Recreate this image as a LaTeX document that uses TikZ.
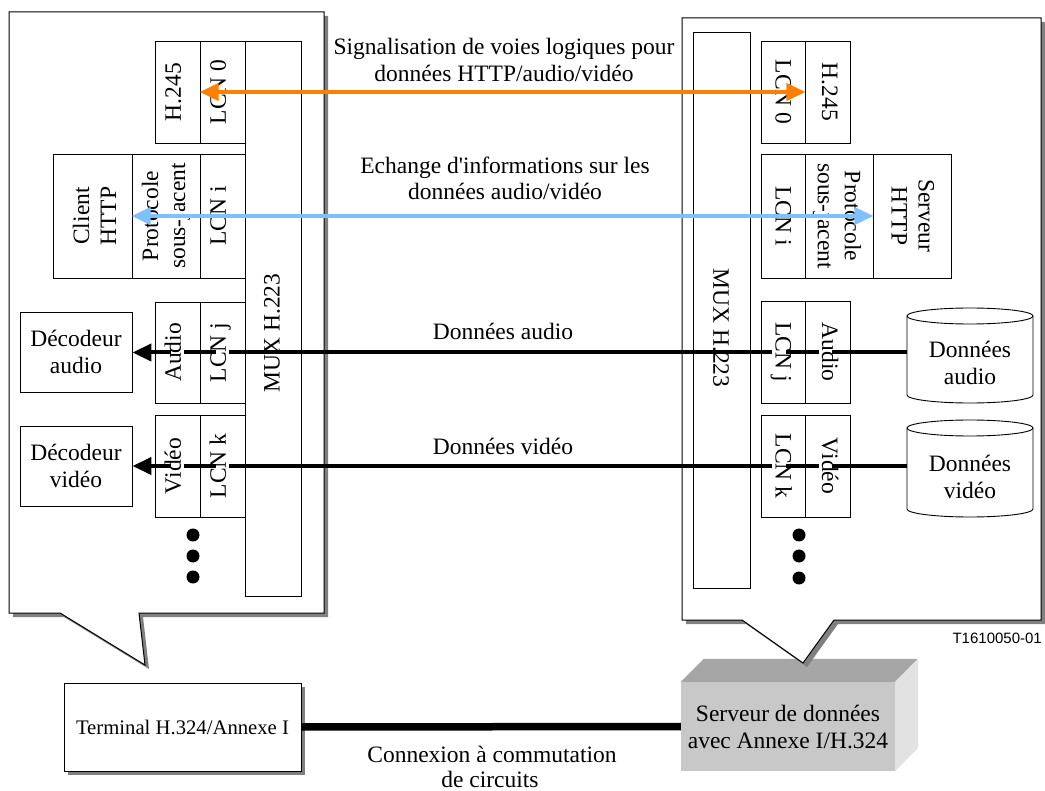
\documentclass[tikz,border=0pt]{standalone}
\usepackage{fontspec}
\setmainfont{Liberation Serif}
\newfontfamily\arialf{Liberation Sans}
\usetikzlibrary{arrows.meta}
\definecolor{sigorange}{RGB}{255,128,0}
\definecolor{infoblue}{RGB}{128,192,255}
\definecolor{shadowgray}{RGB}{128,128,128}
\definecolor{srvfront}{RGB}{200,200,200}
\definecolor{srvtop}{RGB}{166,166,166}
\definecolor{srvside}{RGB}{226,226,226}
\newcommand\mylbl{\fontsize{23.5}{27}\selectfont}
\newcommand\mysmalllbl{\fontsize{20.7}{24}\selectfont}
\begin{document}
\begin{tikzpicture}[x=1pt,y=-1pt,
  cell/.style={draw, line width=0.9pt, inner sep=0pt},
  ctxt/.style={font=\mylbl, fill=white, inner sep=1pt, text height=0.9em, text depth=0.22em},
  mtxt/.style={font=\mylbl, align=center, inner sep=0pt},
  freetxt/.style={font=\mylbl, anchor=base, inner sep=0pt},
  dotnode/.style={circle, fill=black, inner sep=0pt, minimum size=13pt},
  dataline/.style={line width=4pt, -{Triangle[length=19pt,width=17pt]}},
  sigline/.style={line width=4pt, draw=sigorange, {Triangle[length=19pt,width=17pt,fill=sigorange]}-{Triangle[length=19pt,width=17pt,fill=sigorange]}},
  infoline/.style={line width=4pt, draw=infoblue, {Triangle[length=19pt,width=17pt,fill=infoblue]}-{Triangle[length=19pt,width=17pt,fill=infoblue]}},
  callout/.style={fill=white, draw=black, line width=1pt},
  shadowfill/.style={fill=shadowgray},
  cylline/.style={line width=0.9pt}
]
\useasboundingbox (0,0) rectangle (1045,791);

% ---------- bottom devices ----------
\fill[shadowfill] (68,687) rectangle (305,775);
\node[draw, line width=1pt, fill=white, minimum width=237pt, minimum height=88pt, inner sep=0pt, font=\mysmalllbl] (term) at (182.5,727) {Terminal H.324/Annexe I};

\node[fill=srvfront, minimum width=214pt, minimum height=89pt, inner sep=0pt, font=\mylbl, align=center] (srv) at (788,726.5) {Serveur de données\\avec Annexe I/H.324};
\fill[srvtop] (srv.north west) -- ++(23,-23) -- ++(214,0) -- (srv.north east) -- cycle;
\fill[srvside] (srv.north east) -- ++(23,-23) -- ++(0,89) -- (srv.south east) -- cycle;

\draw[line width=7.5pt] (term.east) -- (srv.west);
\node[freetxt] (cx1) at (492,762) {Connexion à commutation};
\node[freetxt] (cx2) at (490,787) {de circuits};

% ---------- callouts ----------
\fill[shadowfill] (13,16) -- (328,16) -- (328,617) -- (143,617) -- (149,669) -- (64,617) -- (13,617) -- cycle;
\draw[callout] (9,12) -- (324,12) -- (324,613) -- (139,613) -- (145,665) -- (60,613) -- (9,613) -- cycle;
\fill[shadowfill] (686,22) -- (1045,22) -- (1045,624) -- (838,624) -- (807,667) -- (746,624) -- (686,624) -- cycle;
\draw[callout] (682,18) -- (1041,18) -- (1041,620) -- (834,620) -- (803,663) -- (742,620) -- (682,620) -- cycle;

\node[font=\arialf\fontsize{15}{18}\selectfont, anchor=base east, inner sep=0pt] (fig) at (1042,643) {T1610050-01};

% ---------- left terminal cells ----------
\node[cell, minimum width=45pt, minimum height=102pt] (lH245) at (177.5,92) {};
\node[cell, minimum width=45pt, minimum height=102pt] (lLCN0) at (222.5,92) {};
\node[cell, minimum width=79pt, minimum height=124pt] (lClient) at (92.5,216) {};
\node[cell, minimum width=68pt, minimum height=124pt] (lProto) at (166,216) {};
\node[cell, minimum width=45pt, minimum height=124pt] (lLCNi) at (222.5,216) {};
\node[cell, minimum width=45pt, minimum height=101pt] (lAudio) at (177.5,352.5) {};
\node[cell, minimum width=45pt, minimum height=101pt] (lLCNj) at (222.5,352.5) {};
\node[cell, minimum width=45pt, minimum height=102pt] (lVideo) at (177.5,466) {};
\node[cell, minimum width=45pt, minimum height=102pt] (lLCNk) at (222.5,466) {};
\node[cell, minimum width=56pt, minimum height=555pt] (lMUX) at (273,318.5) {};
\node[cell, minimum width=112pt, minimum height=80pt, font=\mylbl, align=center] (lDecA) at (76,352) {Décodeur\\audio};
\node[cell, minimum width=112pt, minimum height=80pt, font=\mylbl, align=center] (lDecV) at (76,466) {Décodeur\\vidéo};
\node[mtxt, rotate=90] (tlMUX) at (272,333) {MUX H.223};
\node[mtxt, rotate=90] (tlClient) at (94.5,216) {Client\\HTTP};
\node[mtxt, rotate=90] (tlProto) at (166,216) {Protocole\\sous-jacent};
\node[dotnode] (ldot1) at (193,535) {};
\node[dotnode] (ldot2) at (193,556) {};
\node[dotnode] (ldot3) at (193,577) {};

% ---------- right server cells ----------
\node[cell, minimum width=44pt, minimum height=102pt] (rLCN0) at (783,92) {};
\node[cell, minimum width=45pt, minimum height=102pt] (rH245) at (827.5,92) {};
\node[cell, minimum width=44pt, minimum height=124pt] (rLCNi) at (783,216) {};
\node[cell, minimum width=68pt, minimum height=124pt] (rProto) at (839,216) {};
\node[cell, minimum width=78pt, minimum height=124pt] (rServ) at (912,216) {};
\node[cell, minimum width=44pt, minimum height=102pt] (rLCNj) at (783,352) {};
\node[cell, minimum width=45pt, minimum height=102pt] (rAudio) at (827.5,352) {};
\node[cell, minimum width=44pt, minimum height=102pt] (rLCNk) at (783,466) {};
\node[cell, minimum width=45pt, minimum height=102pt] (rVideo) at (827.5,466) {};
\node[cell, minimum width=57pt, minimum height=556pt] (rMUX) at (721.5,310) {};
\node[mtxt, rotate=-90] (trMUX) at (721,328) {MUX H.223};
\node[mtxt, rotate=-90] (trProto) at (837,216) {Protocole\\sous-jacent};
\node[mtxt, rotate=-90] (trServ) at (913,216) {Serveur\\HTTP};
\node[dotnode] (rdot1) at (799,535) {};
\node[dotnode] (rdot2) at (799,556) {};
\node[dotnode] (rdot3) at (799,578) {};

% cylinders
\draw[cylline, fill=white] (907,316) -- (907,395) .. controls (907,399.4) and (935.2,403) .. (970,403) .. controls (1004.8,403) and (1033,399.4) .. (1033,395) -- (1033,316);
\draw[cylline] (970,316) ellipse [x radius=63, y radius=8];
\node[mtxt, minimum width=126pt] (cylA) at (970,363.3) {Données\\audio};
\draw[cylline, fill=white] (907,428) -- (907,509) .. controls (907,513.4) and (935.2,517) .. (970,517) .. controls (1004.8,517) and (1033,513.4) .. (1033,509) -- (1033,428);
\draw[cylline] (970,428) ellipse [x radius=63, y radius=8];
\node[mtxt, minimum width=126pt] (cylV) at (970,477) {Données\\vidéo};

% ---------- data lines ----------
\draw[dataline] (cylA.west |- lLCNj.center) -- (lDecA.east |- lLCNj.center);
\draw[dataline] (cylV.west |- lLCNk.center) -- (lDecV.east |- lLCNk.center);

% ---------- cell texts ----------
\node[ctxt, rotate=90] (tlH245) at (lH245) {H.245};
\node[ctxt, rotate=90] (tlLCN0) at (lLCN0) {LCN 0};
\node[ctxt, rotate=90] (tlLCNi) at (lLCNi) {LCN i};
\node[ctxt, rotate=90] (tlAudio) at (lAudio) {Audio};
\node[ctxt, rotate=90] (tlLCNj) at (lLCNj) {LCN j};
\node[ctxt, rotate=90] (tlVideo) at (lVideo) {Vidéo};
\node[ctxt, rotate=90] (tlLCNk) at (lLCNk) {LCN k};
\node[ctxt, rotate=-90] (trLCN0) at ([xshift=-4pt]rLCN0.center) {LCN 0};
\node[ctxt, rotate=-90] (trH245) at ([xshift=-2pt]rH245.center) {H.245};
\node[ctxt, rotate=-90] (trLCNi) at ([xshift=-4pt]rLCNi.center) {LCN i};
\node[ctxt, rotate=-90] (trLCNj) at ([xshift=-4pt]rLCNj.center) {LCN j};
\node[ctxt, rotate=-90] (trAudio) at ([xshift=-2pt]rAudio.center) {Audio};
\node[ctxt, rotate=-90] (trLCNk) at ([xshift=-4pt]rLCNk.center) {LCN k};
\node[ctxt, rotate=-90] (trVideo) at ([xshift=-2pt]rVideo.center) {Vidéo};

% ---------- signalling arrows ----------
\draw[sigline] (lLCN0.west) -- (rLCN0.east);
\draw[infoline] (lProto.west) -- (rProto.east);

% ---------- labels ----------
\node[freetxt] (sig1) at (504,55) {Signalisation de voies logiques pour};
\node[freetxt] (sig2) at (504,82) {données HTTP/audio/vidéo};
\node[freetxt] (ech1) at (505,174) {Echange d\textquotesingle informations sur les};
\node[freetxt] (ech2) at (505,200) {données audio/vidéo};
\node[freetxt] (da) at (503,340) {Données audio};
\node[freetxt] (dv) at (503,455) {Données vidéo};
\end{tikzpicture}
\end{document}
